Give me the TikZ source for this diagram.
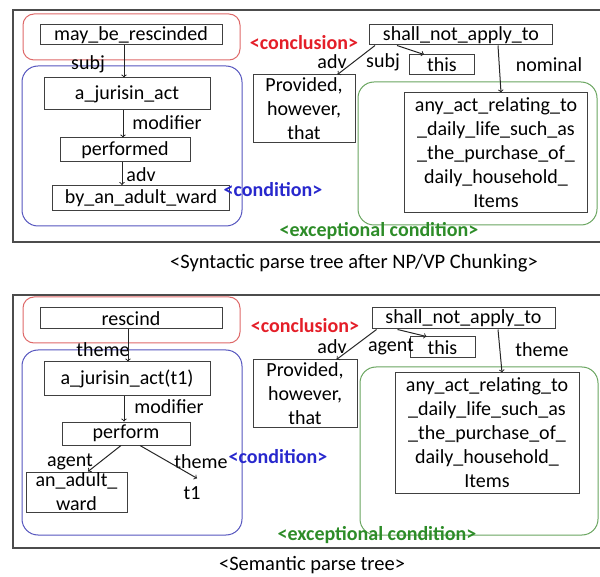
\documentclass[tikz,border=0pt]{standalone}
\usepackage{fontspec}
\setmainfont{Carlito}
\usetikzlibrary{positioning}

\definecolor{concred}{RGB}{228,30,40}
\definecolor{concframe}{RGB}{222,105,105}
\definecolor{condblue}{RGB}{40,40,205}
\definecolor{condframe}{RGB}{85,85,190}
\definecolor{excgreen}{RGB}{45,140,40}
\definecolor{excframe}{RGB}{105,165,95}

\begin{document}
\begin{tikzpicture}[x=1pt, y=-1pt,
  font=\fontsize{20pt}{24pt}\selectfont,
  wbox/.style={rectangle, draw=black!75, line width=1pt, inner sep=0pt, align=center},
  lbl/.style={inner sep=0pt},
  tag/.style={inner sep=0pt, font=\fontsize{20pt}{24pt}\selectfont\bfseries},
  grp/.style={line width=1pt, rounded corners=16pt},
  arr/.style={->, line width=1pt, black!85}]
\useasboundingbox (0,0) rectangle (600,577);

% syntactic parse tree
\draw[black!70, line width=1.2pt] (13,10) rectangle (612,242);
\draw[grp, concframe, rounded corners=11pt] (23,14) rectangle (240,60);
\draw[grp, condframe] (22,66) rectangle (242,226);
\draw[grp, excframe] (358,82) rectangle (597,225);

\node[wbox, minimum width=182pt, minimum height=20pt] (mbr) at (131,35) {may\_be\_rescinded};
\node[wbox, minimum width=166pt, minimum height=32pt] (jur) at (127,94) {a\_jurisin\_act};
\node[wbox, minimum width=130pt, minimum height=24pt] (perf) at (125,150) {performed};
\node[wbox, minimum width=177pt, minimum height=25pt] (byad) at (141,198) {by\_an\_adult\_ward};
\node[wbox, minimum width=183pt, minimum height=20pt] (shall) at (461,35) {shall\_not\_apply\_to};
\node[wbox, minimum width=65pt, minimum height=20pt] (this) at (442,65) {this};
\node[wbox, minimum width=102pt, minimum height=68pt] (prov) at (304,109) {Provided,\\however,\\that};
\node[wbox, minimum width=183pt, minimum height=120pt] (anyact) at (496,153)
  {any\_act\_relating\_to\\\_daily\_life\_such\_as\\\_the\_purchase\_of\_\\daily\_household\_\\Items};

\node[lbl] (subj) at (88,64) {subj};
\node[lbl] (modif) at (167,123) {modifier};
\node[lbl] (adv) at (141,175) {adv};
\node[lbl] (adv2) at (332,62) {adv};
\node[lbl] (subj2) at (383,62) {subj};
\node[lbl] (nomin) at (549,65) {nominal};
\node[tag, concred] (concl) at (304,43) {<conclusion>};
\node[tag, condblue] (cond) at (273,190) {<condition>};
\node[tag, excgreen] (exc) at (379,231) {<exceptional condition>};

\draw[arr] ([xshift=-7pt]mbr.south) -- ([xshift=-3pt]jur.north);
\draw[arr] ([xshift=-4pt]jur.south) -- ([xshift=-2pt]perf.north);
\draw[arr] ([xshift=-3pt]perf.south) -- ([xshift=-19pt]byad.north);
\draw[arr] ([xshift=6pt]shall.south west) -- ([xshift=-18pt]prov.north east);
\draw[arr] ([xshift=28pt]shall.south west) -- ([xshift=15pt]this.north west);
\draw[arr] ([xshift=37pt]shall.south) -- ([xshift=5pt]anyact.north);

\node[lbl, font=\fontsize{20.5pt}{24pt}\selectfont] (cap1) at (354,263) {<Syntactic parse tree after NP/VP Chunking>};

% semantic parse tree
\draw[black!70, line width=1.2pt] (13,295) rectangle (612,548);
\draw[grp, concframe, rounded corners=11pt] (23,297) rectangle (240,343);
\draw[grp, condframe] (22,350) rectangle (242,535);
\draw[grp, excframe] (360,367) rectangle (598,535);

\node[wbox, minimum width=182pt, minimum height=21pt] (resc) at (131,318.5) {rescind};
\node[wbox, minimum width=166pt, minimum height=33pt] (jur2) at (127,378.5) {a\_jurisin\_act(t1)};
\node[wbox, minimum width=128pt, minimum height=23pt] (perf2) at (126,433.5) {perform};
\node[wbox, minimum width=101pt, minimum height=40pt] (adult) at (76.5,492) {an\_adult\_\\ward};
\node[lbl, inner sep=2pt] (t1) at (192,493) {t1};
\node[wbox, minimum width=183pt, minimum height=21pt] (shall2) at (463.5,318.5) {shall\_not\_apply\_to};
\node[wbox, minimum width=65pt, minimum height=21pt] (this2) at (442.5,347.5) {this};
\node[wbox, minimum width=104pt, minimum height=67pt] (prov2) at (305,393.5) {Provided,\\however,\\that};
\node[wbox, minimum width=184pt, minimum height=120pt] (anyact2) at (487,433)
  {any\_act\_relating\_to\\\_daily\_life\_such\_as\\\_the\_purchase\_of\_\\daily\_household\_\\Items};

\node[lbl] (theme) at (103,350) {theme};
\node[lbl] (modif2) at (169,407) {modifier};
\node[lbl] (agent) at (70,462) {agent};
\node[lbl] (theme2) at (201,462) {theme};
\node[lbl] (adv3) at (332,347) {adv};
\node[lbl] (agent2) at (391,347) {agent};
\node[lbl] (theme3) at (542,350) {theme};
\node[tag, concred] (concl2) at (305,326) {<conclusion>};
\node[tag, condblue] (cond2) at (278,457) {<condition>};
\node[tag, excgreen] (exc2) at (377,535) {<exceptional condition>};

\draw[arr] ([xshift=-3pt]resc.south) -- ([xshift=1pt]jur2.north);
\draw[arr] ([xshift=-3pt]jur2.south) -- ([xshift=-2pt]perf2.north);
\draw[arr] ([xshift=-5pt]perf2.south) -- ([xshift=11.5pt]adult.north);
\draw[arr] ([xshift=14pt]perf2.south) -- ([xshift=5pt,yshift=6pt]t1.north);
\draw[arr] ([xshift=5pt]shall2.south west) -- ([xshift=-21pt]prov2.north east);
\draw[arr] ([xshift=26pt]shall2.south west) -- ([xshift=17pt]this2.north west);
\draw[arr] ([xshift=34.5pt]shall2.south) -- ([xshift=15pt]anyact2.north);

\node[lbl, font=\fontsize{20.5pt}{24pt}\selectfont] (cap2) at (312,565) {<Semantic parse tree>};
\end{tikzpicture}
\end{document}
